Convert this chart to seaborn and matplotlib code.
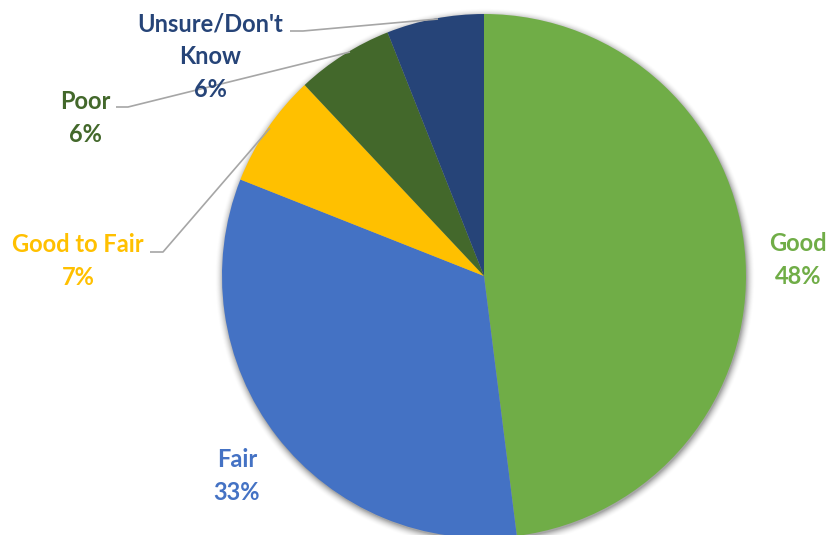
import numpy as np
import matplotlib
matplotlib.use("Agg")
import matplotlib.pyplot as plt
import seaborn as sns

# Survey ratings
categories = ["Good", "Fair", "Good to Fair", "Poor", "Unsure/Don't\nKnow"]
shares = [48, 33, 7, 6, 6]
colors = ["#70AD47", "#4472C4", "#FFC000", "#43682B", "#264478"]

sns.set_theme(style="white")
plt.rcParams["font.family"] = ["Lato", "DejaVu Sans"]

W, H = 831, 535
fig = plt.figure(figsize=(W / 100, H / 100), dpi=100)
ax = fig.add_axes([0, 0, 1, 1])
ax.set_xlim(0, W)
ax.set_ylim(0, H)
ax.set_aspect("equal")
ax.axis("off")

cx, cy, r = 484, H - 276, 262

# soft drop shadow under the pie
gx, gy = np.meshgrid(np.linspace(0, W, W), np.linspace(0, H, H))
d = np.hypot(gx - (cx + 1), gy - (cy - 2)) - r
alpha = np.clip(1 - d / 9.0, 0, 1) ** 2 * 0.35
shadow = np.zeros((H, W, 4))
shadow[..., 3] = alpha
ax.imshow(shadow, extent=[0, W, 0, H], origin="lower", zorder=0, interpolation="bilinear")

ax.pie(shares, colors=colors, startangle=90, counterclock=False,
       center=(cx, cy), radius=r, frame=True,
       wedgeprops=dict(linewidth=0))
ax.set_xlim(0, W)
ax.set_ylim(0, H)
ax.axis("off")

# label positions (x, y of block centre in pixels from top-left)
label_pos = [(798, 260), (237, 476), (78, 261), (85, 118), (210, 57)]
for cat, val, col, (lx, ly) in zip(categories, shares, colors, label_pos):
    ax.text(lx, H - ly, f"{cat}\n{val}%", ha="center", va="center",
            color=col, fontsize=17, fontweight="bold", linespacing=1.5, zorder=5)

# leader lines
leader = [
    [(150, 252), (163, 252), (270, 128)],
    [(116, 107), (128, 107), (350, 52)],
    [(290, 31), (303, 31), (438, 19)],
]
for pts in leader:
    xs = [p[0] for p in pts]
    ys = [H - p[1] for p in pts]
    ax.plot(xs, ys, color="#A6A6A6", lw=1.2, zorder=4, solid_capstyle="butt")

fig.savefig("out.png", dpi=100)
